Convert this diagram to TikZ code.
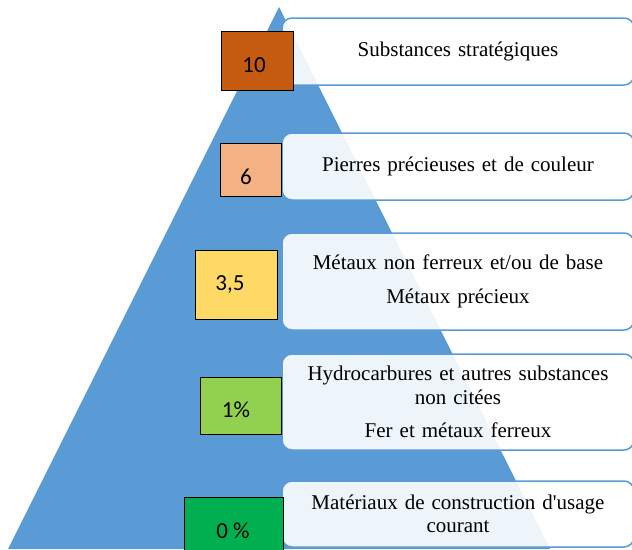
\documentclass[tikz,border=0pt]{standalone}
\usepackage{fontspec}
\setmainfont{Liberation Serif}
\newfontfamily\numfont{Carlito}
\usepackage{tikz}
\definecolor{pyrblue}{HTML}{5B9BD5}
\definecolor{c1}{HTML}{C55A11}
\definecolor{c2}{HTML}{F4B183}
\definecolor{c3}{HTML}{FFD966}
\definecolor{c4}{HTML}{92D050}
\definecolor{c5}{HTML}{00B050}

\begin{document}
\begin{tikzpicture}[x=1pt,y=-1pt]
					\tikzstyle{textbox}=[rectangle,rounded corners=10pt,draw=pyrblue,line width=1.5pt,fill=white,fill opacity=0.9,text opacity=1,minimum width=352pt,text width=340pt,align=center,font=\fontsize{21}{23.5}\selectfont]
					\tikzstyle{square}=[rectangle,draw=black,line width=0.7pt,inner sep=0pt]
					\tikzstyle{num}=[font=\numfont\fontsize{23}{24}\selectfont,inner sep=0pt]
					\clip (0,0) rectangle (632,549);
					\fill[pyrblue] (279,7) -- (8,549) -- (550,549) -- cycle;
					\node[textbox,minimum height=67pt] (1) at (458,51.5) {Substances stratégiques};
					\node[textbox,minimum height=67pt] (2) at (458,166.5) {Pierres précieuses et de couleur};
					\node[textbox,minimum height=97pt] (3) at (458,281.5) {Métaux non ferreux et/ou de base\\[10pt]Métaux précieux};
					\node[textbox,minimum height=96pt] (4) at (458,402) {Hydrocarbures et autres substances\\non citées\\[10pt]Fer et métaux ferreux};
					\node[textbox,minimum height=66pt] (5) at (458,514) {Matériaux de construction d\textquotesingle usage\\courant};
					\node[square,fill=c1,minimum width=72pt,minimum height=59pt] (s1) at (257,60.5) {};
					\node[square,fill=c2,minimum width=61pt,minimum height=53pt] (s2) at (250.5,169.5) {};
					\node[square,fill=c3,minimum width=82pt,minimum height=69pt] (s3) at (236,284.5) {};
					\node[square,fill=c4,minimum width=81pt,minimum height=57pt] (s4) at (240.5,405.5) {};
					\node[square,fill=c5,minimum width=99pt,minimum height=60pt] (s5) at (233.5,527) {};
					\node[num] (n1) at (254,65) {10};
					\node[num] (n2) at (246,177) {6};
					\node[num] (n3) at (230,284.5) {3,5};
					\node[num] (n4) at (236,410) {1\%};
					\node[num] (n5) at (233,531) {0 \%};
					\end{tikzpicture}
\end{document}
